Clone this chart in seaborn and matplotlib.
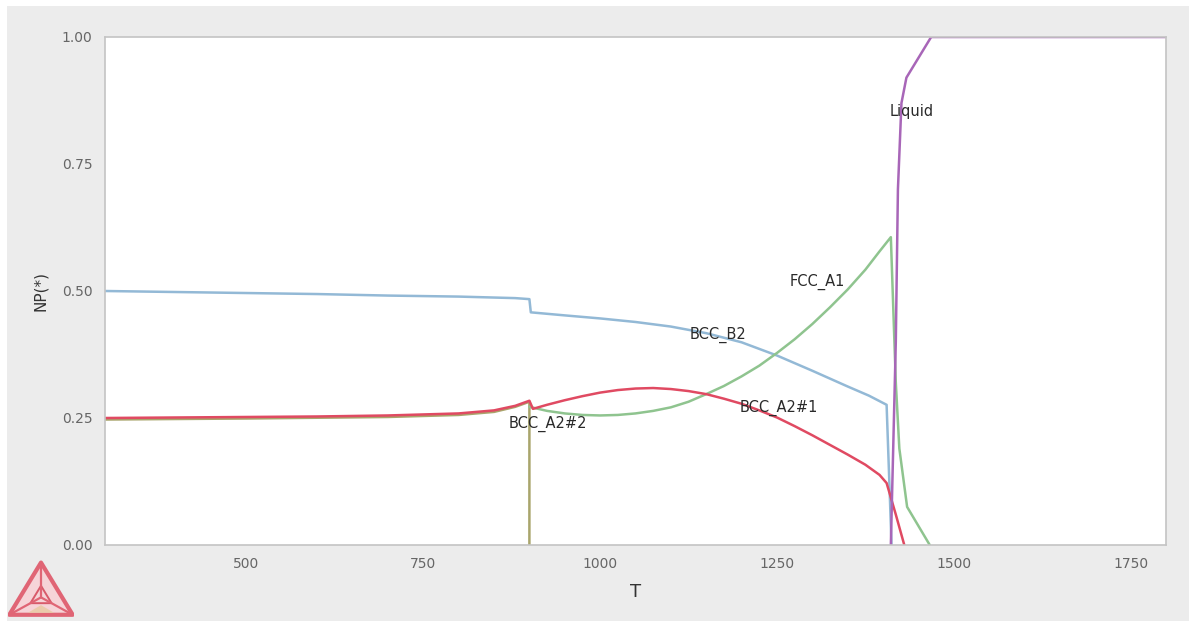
import matplotlib
matplotlib.use("Agg")
import matplotlib.pyplot as plt
import numpy as np
import pandas as pd
import seaborn as sns
from matplotlib.patches import Polygon, Rectangle

# Equilibrium phase amounts NP(*) versus temperature T
t_bcc_b2 = [300, 400, 500, 600, 700, 800, 880, 900, 902, 950, 1000, 1050, 1100,
            1150, 1200, 1250, 1300, 1350, 1380, 1405, 1412]
np_bcc_b2 = [0.500, 0.498, 0.496, 0.494, 0.491, 0.489, 0.486, 0.484, 0.458, 0.452,
             0.446, 0.439, 0.430, 0.417, 0.399, 0.373, 0.343, 0.312, 0.294, 0.276, 0.0]

t_bcc_a2_1 = [300, 400, 500, 600, 700, 800, 850, 880, 900, 905, 925, 950, 975, 1000,
              1025, 1050, 1075, 1100, 1125, 1150, 1175, 1200, 1225, 1250, 1275, 1300,
              1325, 1350, 1375, 1395, 1405, 1418, 1430]
np_bcc_a2_1 = [0.250, 0.251, 0.252, 0.253, 0.255, 0.259, 0.265, 0.274, 0.284, 0.268,
               0.276, 0.285, 0.293, 0.300, 0.305, 0.308, 0.309, 0.307, 0.303, 0.297,
               0.288, 0.278, 0.265, 0.251, 0.234, 0.216, 0.197, 0.178, 0.158, 0.138,
               0.122, 0.060, 0.0]

t_bcc_a2_2 = [300, 500, 700, 800, 850, 880, 900, 900]
np_bcc_a2_2 = [0.247, 0.249, 0.252, 0.256, 0.262, 0.272, 0.282, 0.0]

t_fcc_a1 = [900, 925, 950, 975, 1000, 1025, 1050, 1075, 1100, 1125, 1150, 1175, 1200,
            1225, 1250, 1275, 1300, 1325, 1350, 1375, 1395, 1411, 1418, 1423, 1434,
            1466]
np_fcc_a1 = [0.272, 0.264, 0.259, 0.256, 0.255, 0.256, 0.259, 0.264, 0.271, 0.282,
             0.297, 0.313, 0.332, 0.353, 0.378, 0.405, 0.435, 0.468, 0.503, 0.542,
             0.578, 0.606, 0.320, 0.190, 0.075, 0.0]

t_liquid = [1411, 1418, 1421, 1426, 1433, 1468, 1800]
np_liquid = [0.0, 0.40, 0.70, 0.87, 0.92, 1.0, 1.0]

phase_names = ["BCC_B2", "BCC_A2#1", "BCC_A2#2", "FCC_A1", "Liquid"]
phase_colors = ["#93b9d6", "#e04a62", "#a9a56c", "#8fc48f", "#a866b8"]

# Label anchors (T, NP) for each phase name
label_t = [1166, 1253, 926, 1307, 1441]
label_np = [0.413, 0.270, 0.238, 0.518, 0.854]

series = [(t_bcc_b2, np_bcc_b2), (t_bcc_a2_1, np_bcc_a2_1), (t_bcc_a2_2, np_bcc_a2_2),
          (t_fcc_a1, np_fcc_a1), (t_liquid, np_liquid)]
frames = []
for name, (tt, vv) in zip(phase_names, series):
    frames.append(pd.DataFrame({"T": tt, "NP": vv, "phase": name,
                                "step": range(len(tt))}))
data = pd.concat(frames, ignore_index=True)

sns.set_style("white")
plt.rcParams["font.family"] = ["DejaVu Sans"]

W, H = 1189, 627
fig = plt.figure(figsize=(W / 100, H / 100), dpi=100, facecolor="white")
fig.patches.append(Rectangle((7 / W, 6 / H), 1 - 7 / W, 1 - 12 / H,
                             transform=fig.transFigure, facecolor="#ececec",
                             edgecolor="none", zorder=-10))

ax = fig.add_axes([105 / W, 1 - 545 / H, (1166 - 105) / W, (545 - 37) / H])
ax.set_facecolor("white")

draw_order = ["BCC_A2#2", "BCC_B2", "FCC_A1", "BCC_A2#1", "Liquid"]
palette = dict(zip(phase_names, phase_colors))
for name in draw_order:
    sns.lineplot(data=data[data["phase"] == name], x="T", y="NP", color=palette[name],
                 estimator=None, sort=False, linewidth=1.8, ax=ax, legend=False)

for name, lt, lv in zip(phase_names, label_t, label_np):
    ax.text(lt, lv, name, ha="center", va="center", fontsize=10.5, color="#2a2a2a",
            zorder=5)

ax.set_xlim(300, 1800)
ax.set_ylim(0, 1.0)
ax.set_xticks([500, 750, 1000, 1250, 1500, 1750])
ax.set_yticks([0.0, 0.25, 0.5, 0.75, 1.0])
ax.set_yticklabels(["0.00", "0.25", "0.50", "0.75", "1.00"])
ax.tick_params(axis="both", labelsize=10, colors="#777777", length=3, width=0.8,
               direction="out", pad=6)
for lab in ax.get_xticklabels() + ax.get_yticklabels():
    lab.set_color("#666666")
for sp in ax.spines.values():
    sp.set_color("#c4c4c4")
    sp.set_linewidth(1.2)

ax.set_xlabel("T", fontsize=13, color="#333333", labelpad=8)
ax.set_ylabel("NP(*)", fontsize=11, color="#333333", labelpad=10)

# Triangle logo in the lower-left corner
lax = fig.add_axes([8 / W, 1 - 618 / H, 66 / W, 58 / H])
lax.set_xlim(0, 1)
lax.set_ylim(0, 0.9)
lax.axis("off")
verts = np.array([[0.02, 0.05], [0.98, 0.05], [0.5, 0.86]])
lax.add_patch(Polygon(verts, closed=True, facecolor="#f6d4d8", edgecolor="#e06575",
                      linewidth=3, joinstyle="round"))
center = verts.mean(axis=0)
for v in verts:
    lax.plot([v[0], center[0]], [v[1], center[1]], color="#e06575", linewidth=1.6)
inner = (verts + 2 * center) / 3
lax.add_patch(Polygon(inner, closed=True, facecolor="none", edgecolor="#d85a6a",
                      linewidth=1.4))
lax.add_patch(Polygon([[0.3, 0.08], [0.7, 0.08], [0.5, 0.2]], closed=True,
                      facecolor="#e8c9a0", edgecolor="none", alpha=0.8))

fig.savefig("out.png", dpi=100, facecolor=fig.get_facecolor())
